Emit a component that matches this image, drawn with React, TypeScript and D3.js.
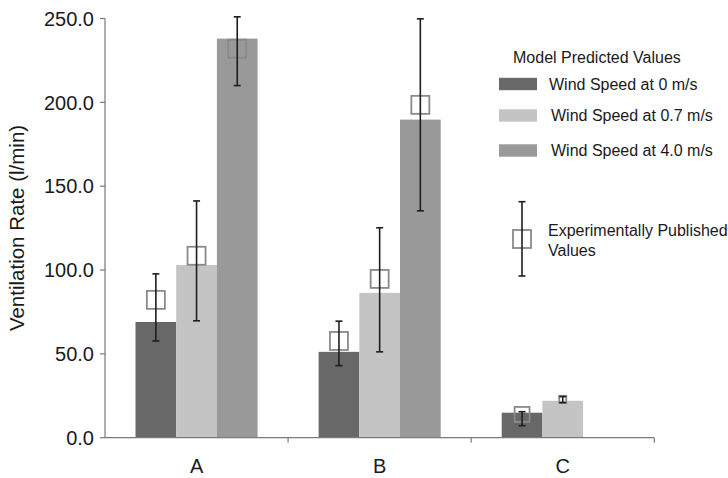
import * as d3 from 'd3';

// Model predicted ventilation rates (l/min), one array per wind speed
const categories = ['A', 'B', 'C'];
const seriesNames = ['Wind Speed at 0 m/s', 'Wind Speed at 0.7 m/s', 'Wind Speed at 4.0 m/s'];
const model0 = [69, 51.2, 14.9];
const model07 = [103, 86.4, 22];
const model40 = [238, 189.7, 0];

// Experimentally published values: mean, low, high (null = none)
const expMean = [[82.2, 57.7, 13.9], [108.5, 94.7, 22.9], [232, 198.5, null]];
const expLow = [[57.7, 43, 7.2], [69.7, 51.2, 20.9], [210, 135.3, null]];
const expHigh = [[97.7, 69.5, 15.5], [141.2, 125.2, 24.5], [251, 249.8, null]];

const yTicks = [0, 50, 100, 150, 200, 250];

const COLORS = ['#686868', '#c4c4c4', '#999999'];
const AXIS = '#7a7a7a';
const FONT = '"Liberation Sans", Arial, Helvetica, sans-serif';

export default function App() {
  const width = 728;
  const height = 478;
  const left = 105;
  const right = 654.3;
  const top = 18.5;
  const bottom = 437.7;

  const models = [model0, model07, model40];

  const x0 = d3.scaleBand<string>().domain(categories).range([left, right]).padding(0);
  const x1 = d3.scaleBand<number>()
    .domain([0, 1, 2])
    .range([0, x0.bandwidth()])
    .paddingInner(0)
    .paddingOuter(0.75);
  const y = d3.scaleLinear().domain([0, 250]).range([bottom, top]);

  const bars = [];
  const errs = [];
  categories.forEach((cat, ci) => {
    models.forEach((vals, si) => {
      const bx = x0(cat)! + x1(si)!;
      const v = vals[ci];
      if (v > 0) {
        bars.push(
          <rect key={`b${ci}${si}`} x={bx} y={y(v)} width={x1.bandwidth()} height={y(0) - y(v)} fill={COLORS[si]} />
        );
      }
      const m = expMean[si][ci];
      if (m != null) {
        const cx = bx + x1.bandwidth() / 2;
        const yl = y(expLow[si][ci]!);
        const yh = y(expHigh[si][ci]!);
        // marker shrinks when the error range is small
        const s = Math.min(18, yl - yh + 1);
        errs.push(
          <g key={`e${ci}${si}`}>
            <rect x={cx - s / 2} y={y(m) - s / 2} width={s} height={s} fill="none" stroke="#8a8a8a" strokeWidth={1.8} />
            <line x1={cx} x2={cx} y1={yh} y2={yl} stroke="#1e1e1e" strokeWidth={1.6} />
            <line x1={cx - 3.5} x2={cx + 3.5} y1={yh} y2={yh} stroke="#1e1e1e" strokeWidth={1.6} />
            <line x1={cx - 3.5} x2={cx + 3.5} y1={yl} y2={yl} stroke="#1e1e1e" strokeWidth={1.6} />
          </g>
        );
      }
    });
  });

  const legendRows = [84, 115.5, 150.5];

  return (
    <div style={{ position: 'fixed', left: 0, top: 0 }}>
      <svg width={width} height={height} style={{ display: 'block', background: '#fff' }} fontFamily={FONT}>
        {bars}
        {errs}

        {/* y axis */}
        <line x1={left} x2={left} y1={top} y2={bottom} stroke={AXIS} strokeWidth={1.2} />
        {yTicks.map((t) => (
          <g key={t}>
            <line x1={left - 5} x2={left} y1={y(t)} y2={y(t)} stroke={AXIS} strokeWidth={1.2} />
            <text x={94} y={y(t)} dy="0.36em" textAnchor="end" fontSize={20} fill="#1a1a1a">
              {d3.format('.1f')(t)}
            </text>
          </g>
        ))}
        <text
          transform={`translate(17,228) rotate(-90)`}
          textAnchor="middle"
          dy="0.36em"
          fontSize={20.5}
          fill="#1a1a1a"
        >
          Ventilation Rate (l/min)
        </text>

        {/* x axis */}
        <line x1={left} x2={right} y1={bottom} y2={bottom} stroke={AXIS} strokeWidth={1.2} />
        {categories.map((c) => (
          <g key={c}>
            <line x1={x0(c)! + x0.bandwidth()} x2={x0(c)! + x0.bandwidth()} y1={bottom} y2={bottom + 5} stroke={AXIS} strokeWidth={1.2} />
            <text x={x0(c)! + x0.bandwidth() / 2} y={473} textAnchor="middle" fontSize={20} fill="#1a1a1a">
              {c}
            </text>
          </g>
        ))}

        {/* legend */}
        <text x={513} y={57} dy="0.36em" fontSize={16} fill="#1a1a1a">Model Predicted Values</text>
        {seriesNames.map((n, i) => (
          <g key={n}>
            <rect x={499} y={legendRows[i] - 6.2} width={38} height={12.4} fill={COLORS[i]} />
            <text x={i === 0 ? 549 : 551} y={legendRows[i]} dy="0.36em" fontSize={16} fill="#1a1a1a">{n}</text>
          </g>
        ))}
        <rect x={513} y={230} width={18} height={18} fill="none" stroke="#8a8a8a" strokeWidth={1.8} />
        <line x1={522} x2={522} y1={201.7} y2={276} stroke="#1e1e1e" strokeWidth={1.6} />
        <line x1={518.5} x2={525.5} y1={201.7} y2={201.7} stroke="#1e1e1e" strokeWidth={1.6} />
        <line x1={518.5} x2={525.5} y1={276} y2={276} stroke="#1e1e1e" strokeWidth={1.6} />
        <text x={548} y={230} dy="0.36em" fontSize={16} fill="#1a1a1a">Experimentally Published</text>
        <text x={548} y={250} dy="0.36em" fontSize={16} fill="#1a1a1a">Values</text>
      </svg>
    </div>
  );
}
